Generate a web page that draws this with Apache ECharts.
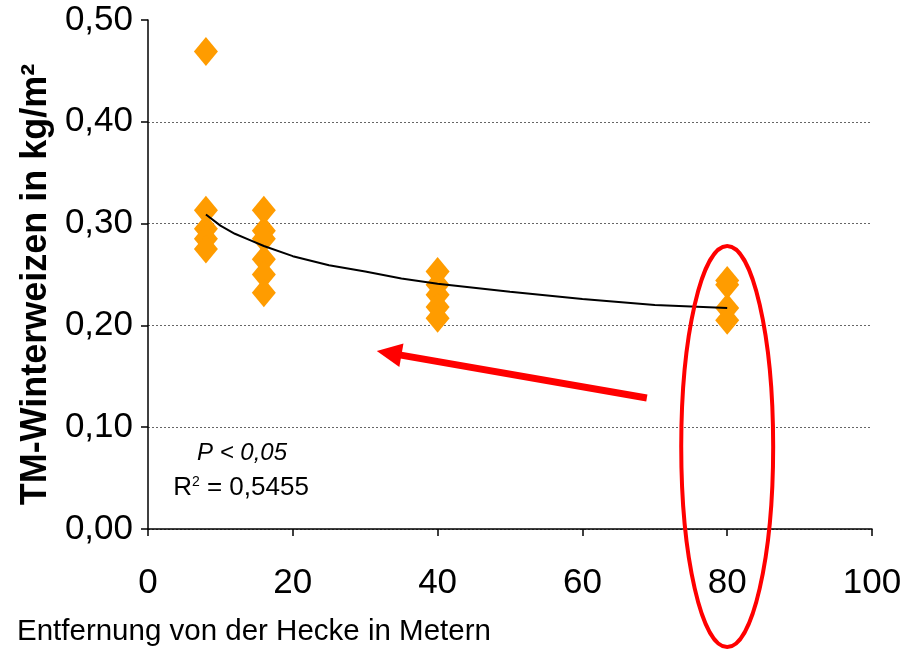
<!DOCTYPE html>
<html>
<head>
<meta charset="utf-8">
<script src="https://cdn.jsdelivr.net/npm/echarts@6/dist/echarts.min.js"></script>
<style>
html,body{margin:0;padding:0;background:#fff;}
#chart{width:908px;height:650px;}
</style>
</head>
<body>
<div id="chart"></div>
<script>
// ---- data ----
var xTicks = [0, 20, 40, 60, 80, 100];
var yTicks = [0, 0.1, 0.2, 0.3, 0.4, 0.5];
var dist8  = [0.469, 0.313, 0.295, 0.285, 0.275];
var dist16 = [0.313, 0.293, 0.285, 0.265, 0.250, 0.232];
var dist40 = [0.253, 0.240, 0.230, 0.218, 0.207];
var dist80 = [0.244, 0.240, 0.217, 0.205];
var trendX = [8, 10, 12, 14, 16, 20, 25, 30, 35, 40, 50, 60, 70, 80];
var trendY = [0.309, 0.298, 0.290, 0.284, 0.278, 0.268, 0.259, 0.253, 0.246, 0.241, 0.233, 0.226, 0.220, 0.217];
// annotations in data coordinates
var ellipseCenter = [80, 0.081];
var ellipseRadius = [6.35, 0.197];
var arrowTail = [68.9, 0.1287];
var arrowTip = [31.6, 0.1749];

var scatterData = [];
[[8, dist8], [16, dist16], [40, dist40], [80, dist80]].forEach(function (g) {
  g[1].forEach(function (v) { scatterData.push([g[0], v]); });
});
var trendData = trendX.map(function (x, i) { return [x, trendY[i]]; });

var FONT = '"Liberation Sans", Arial, sans-serif';
var NARROW = '"Liberation Sans Narrow", "Arial Narrow", "Liberation Sans", sans-serif';
var chart = echarts.init(document.getElementById('chart'));
var option = {
  animation: false,
  backgroundColor: '#fff',
  grid: { left: 148, right: 36, top: 20, bottom: 121, containLabel: false },
  xAxis: {
    type: 'value', min: 0, max: 100, interval: 20,
    axisLine: { show: true, lineStyle: { color: '#000', width: 1.5 } },
    axisTick: { show: true, inside: false, length: 7, lineStyle: { color: '#000', width: 1.5 } },
    axisLabel: { color: '#000', fontFamily: NARROW, fontSize: 35, margin: 37,
      formatter: function (v) { return xTicks.indexOf(v) >= 0 ? String(v) : ''; } },
    splitLine: { show: false }
  },
  yAxis: {
    type: 'value', min: 0, max: 0.5, interval: 0.1,
    axisLine: { show: true, lineStyle: { color: '#000', width: 1.5 } },
    axisTick: { show: true, inside: false, length: 7, lineStyle: { color: '#000', width: 1.5 } },
    axisLabel: { color: '#000', fontFamily: NARROW, fontSize: 35, margin: 15,
      formatter: function (v) { return v.toFixed(2).replace('.', ','); } },
    splitLine: { show: true, lineStyle: { color: ['#666', '#666', '#666', '#666', '#666', 'rgba(0,0,0,0)'], width: 1, type: [2, 2] } }
  },
  title: [
    { text: 'Entfernung von der Hecke in Metern', left: 12, top: 612,
      textStyle: { fontFamily: FONT, fontSize: 29.5, fontWeight: 'normal', color: '#000' } }
  ],
  series: [
    {
      type: 'line', data: trendData, showSymbol: false, symbol: 'none', smooth: false,
      lineStyle: { color: '#000', width: 2 }, z: 3
    },
    {
      type: 'scatter', data: scatterData, symbol: 'diamond', symbolSize: [24, 29],
      itemStyle: { color: '#FF9C00', opacity: 1 }, z: 2
    }
  ]
};
chart.setOption(option);

function px(p) { return chart.convertToPixel({ gridIndex: 0 }, p); }
var c = px(ellipseCenter);
var ex = px([ellipseCenter[0] + ellipseRadius[0], ellipseCenter[1]]);
var ey = px([ellipseCenter[0], ellipseCenter[1] + ellipseRadius[1]]);
var rx = Math.abs(ex[0] - c[0]), ry = Math.abs(c[1] - ey[1]);
var t = px(arrowTail), h = px(arrowTip);
var dx = h[0] - t[0], dy = h[1] - t[1];
var len = Math.sqrt(dx * dx + dy * dy);
var ux = dx / len, uy = dy / len;
var headLen = 25, headHalf = 12;
var bx = h[0] - ux * headLen, by = h[1] - uy * headLen;
var nx = -uy, ny = ux;

var yGrid0 = px([0, 0])[1], yGrid1 = px([0, 0.5])[1];
chart.setOption({
  graphic: [
    { type: 'ellipse', shape: { cx: c[0], cy: c[1], rx: rx, ry: ry },
      style: { fill: 'none', stroke: '#FF0000', lineWidth: 4 }, z: 10 },
    { type: 'line', shape: { x1: t[0], y1: t[1], x2: bx + ux * 2, y2: by + uy * 2 },
      style: { stroke: '#FF0000', lineWidth: 7 }, z: 10 },
    { type: 'polygon', shape: { points: [[h[0], h[1]], [bx + nx * headHalf, by + ny * headHalf], [bx - nx * headHalf, by - ny * headHalf]] },
      style: { fill: '#FF0000' }, z: 10 },
    { type: 'text', x: 242, y: 453,
      style: { text: 'P < 0,05', font: 'italic 24px ' + NARROW, fill: '#000', align: 'center', verticalAlign: 'middle' }, z: 10 },
    { type: 'text', x: 241, y: 488,
      style: { text: '{r|R}{s|2}{r| = 0,5455}', align: 'center', verticalAlign: 'middle',
        rich: { r: { fontFamily: NARROW, fontSize: 26, color: '#000' },
                s: { fontFamily: NARROW, fontSize: 14, color: '#000', verticalAlign: 'top', padding: [0, 0, 12, 0] } } }, z: 10 },
    { type: 'text', x: 36, y: (yGrid0 + yGrid1) / 2 + 10, rotation: Math.PI / 2,
      style: { text: 'TM-Winterweizen in kg/m²', font: 'bold 36px ' + FONT, fill: '#000', align: 'center', verticalAlign: 'middle' }, z: 10 }
  ]
});
</script>
</body>
</html>
